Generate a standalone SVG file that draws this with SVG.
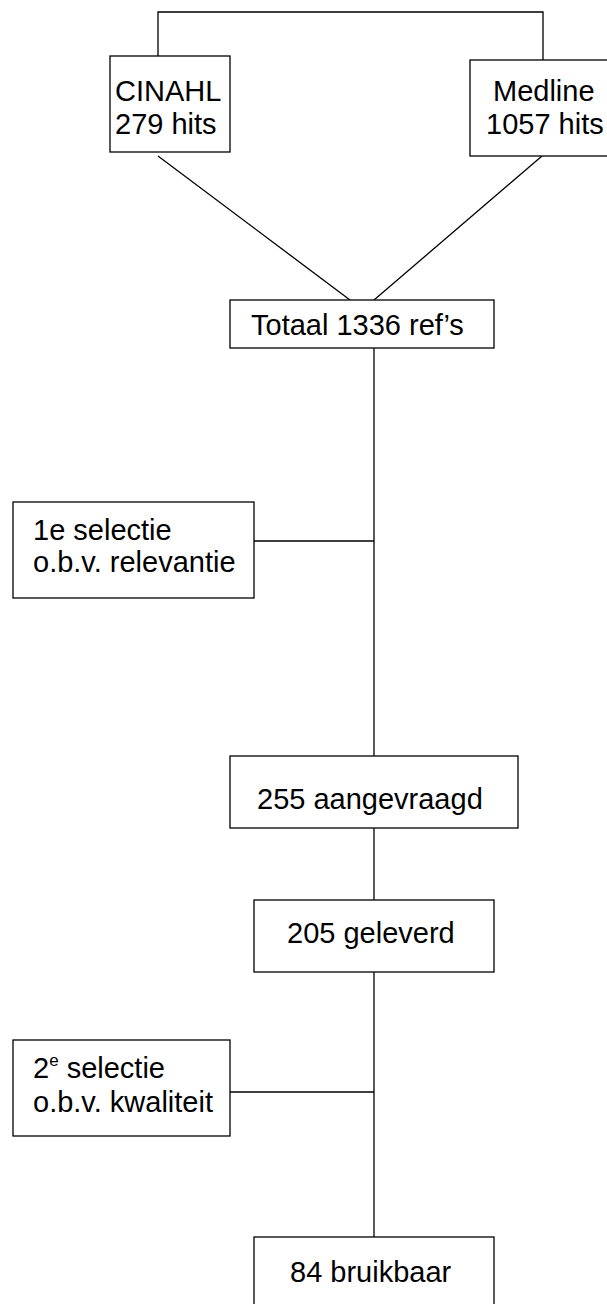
<svg xmlns="http://www.w3.org/2000/svg" width="607" height="1304" viewBox="0 0 607 1304">
<style>
.box{fill:#fff;stroke:#000;stroke-width:1.3}
.ln{fill:none;stroke:#000;stroke-width:1.3}
text{font-family:"Liberation Sans",Arial,sans-serif;font-size:29px;fill:#000}
.sup{font-size:17px}
</style>
<rect width="607" height="1304" fill="#fff"/>
<g id="connectors">
<polyline class="ln" points="158,60 158,12 543,12 543,60"/>
<line class="ln" x1="158" y1="156" x2="350" y2="300"/>
<line class="ln" x1="542" y1="156" x2="374" y2="300"/>
<line class="ln" x1="374" y1="348" x2="374" y2="756"/>
<line class="ln" x1="254" y1="541" x2="374" y2="541"/>
<line class="ln" x1="374" y1="828" x2="374" y2="900"/>
<line class="ln" x1="374" y1="972" x2="374" y2="1237"/>
<line class="ln" x1="230" y1="1092" x2="374" y2="1092"/>
</g>
<g id="cinahl">
<rect class="box" x="110" y="56" width="120" height="96"/>
<text x="115" y="101">CINAHL</text>
<text x="115" y="134">279 hits</text>
</g>
<g id="medline">
<rect class="box" x="470" y="60" width="140" height="96"/>
<text x="493" y="101">Medline</text>
<text x="486" y="134">1057 hits</text>
</g>
<g id="totaal">
<rect class="box" x="230" y="300" width="264" height="48"/>
<text x="251" y="335">Totaal 1336 ref’s</text>
</g>
<g id="selectie1">
<rect class="box" x="13" y="502" width="241" height="96"/>
<text x="33" y="540">1e selectie</text>
<text x="33" y="572">o.b.v. relevantie</text>
</g>
<g id="aangevraagd">
<rect class="box" x="230" y="756" width="288" height="72"/>
<text x="257" y="809">255 aangevraagd</text>
</g>
<g id="geleverd">
<rect class="box" x="254" y="900" width="240" height="72"/>
<text x="287" y="943">205 geleverd</text>
</g>
<g id="selectie2">
<rect class="box" x="13" y="1040" width="217" height="96"/>
<text x="33" y="1078">2<tspan class="sup" dy="-12">e</tspan><tspan dy="12"> selectie</tspan></text>
<text x="33" y="1112">o.b.v. kwaliteit</text>
</g>
<g id="bruikbaar">
<rect class="box" x="254" y="1237" width="240" height="72"/>
<text x="290" y="1282">84 bruikbaar</text>
</g>
</svg>
